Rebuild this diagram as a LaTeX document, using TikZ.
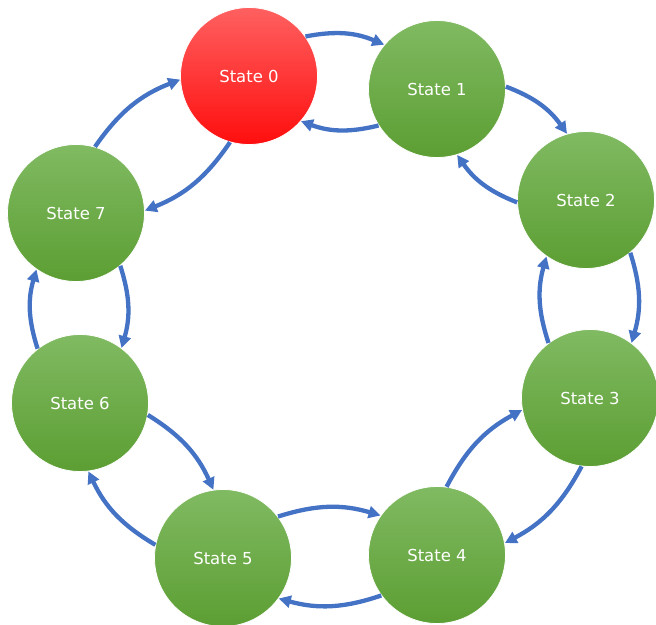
\documentclass[tikz,border=0pt]{standalone}
\usepackage{fontspec}
\setmainfont{DejaVu Sans}
\usetikzlibrary{arrows.meta}
\definecolor{arr}{HTML}{4472C4}
\definecolor{gtop}{HTML}{80BA62}
\definecolor{gbot}{HTML}{5C9E33}
\definecolor{rtop}{HTML}{FF6060}
\definecolor{rbot}{HTML}{FF0E0E}
\begin{document}
\begin{tikzpicture}[x=1pt,y=-1pt,
  state/.style={circle, minimum size=137pt, inner sep=0pt, text=white,
    font=\fontsize{16.5}{19}\selectfont, top color=gtop, bottom color=gbot,
    draw=white, line width=0.8pt},
  startstate/.style={state, top color=rtop, bottom color=rbot},
  link/.style={draw=arr, line width=4.3pt, -{Triangle[length=12pt,width=12pt]}, bend left=17}]
\useasboundingbox (0,0) rectangle (656,624);
\node[startstate] (s0) at (249,76) {State 0};
\node[state] (s1) at (437,89) {State 1};
\node[state] (s2) at (586,200) {State 2};
\node[state] (s3) at (590,398) {State 3};
\node[state] (s4) at (437,555) {State 4};
\node[state] (s5) at (223,558) {State 5};
\node[state] (s6) at (80,403) {State 6};
\node[state] (s7) at (76,213) {State 7};
\draw[link] (s0.35) to (s1.140);
\draw[link] (s1.212) to (s0.319);
\draw[link] (s1.2) to (s2.106);
\draw[link] (s2.182) to (s1.287);
\draw[link] (s2.310) to (s3.53);
\draw[link] (s3.127) to (s2.235);
\draw[link] (s3.263) to (s4.10);
\draw[link] (s4.82) to (s3.190);
\draw[link] (s4.216) to (s5.324);
\draw[link] (s5.37) to (s4.145);
\draw[link] (s5.169) to (s6.277);
\draw[link] (s6.350) to (s5.98);
\draw[link] (s6.128) to (s7.235);
\draw[link] (s7.310) to (s6.53);
\draw[link] (s7.74) to (s0.183);
\draw[link] (s0.254) to (s7.2);
\end{tikzpicture}
\end{document}
